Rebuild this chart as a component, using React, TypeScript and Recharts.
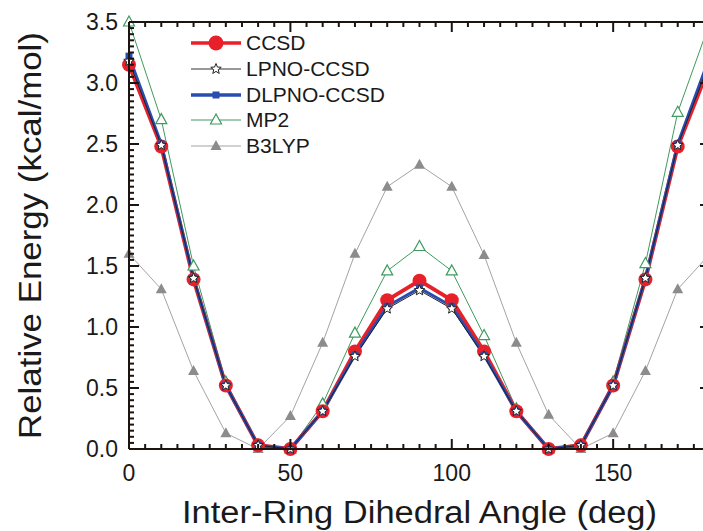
import { LineChart, Line, XAxis, YAxis } from 'recharts';

// dihedral angle (deg)
const angles = [0, 10, 20, 30, 40, 50, 60, 70, 80, 90, 100, 110, 120, 130, 140, 150, 160, 170, 180];

// relative energies (kcal/mol)
const ccsd = [3.15, 2.48, 1.39, 0.52, 0.03, 0.0, 0.31, 0.8, 1.22, 1.38, 1.22, 0.8, 0.31, 0.0, 0.03, 0.52, 1.39, 2.48, 3.15];
const lpno = [3.18, 2.49, 1.4, 0.52, 0.03, 0.0, 0.31, 0.76, 1.15, 1.3, 1.15, 0.76, 0.31, 0.0, 0.03, 0.52, 1.4, 2.49, 3.18];
const dlpno = [3.22, 2.5, 1.4, 0.52, 0.03, 0.0, 0.31, 0.77, 1.17, 1.32, 1.17, 0.77, 0.31, 0.0, 0.03, 0.52, 1.4, 2.5, 3.22];
const mp2 = [3.5, 2.7, 1.5, 0.55, 0.03, 0.0, 0.37, 0.95, 1.46, 1.66, 1.46, 0.93, 0.33, 0.0, 0.03, 0.55, 1.52, 2.76, 3.5];
const b3lyp = [1.6, 1.31, 0.64, 0.13, 0.0, 0.27, 0.87, 1.6, 2.15, 2.33, 2.15, 1.59, 0.87, 0.28, 0.0, 0.13, 0.64, 1.31, 1.6];

const xMajorTicks = [0, 50, 100, 150];
const yMajorTicks = [0, 0.5, 1, 1.5, 2, 2.5, 3, 3.5];
const xMinorTicks = Array.from({ length: 37 }, (_, i) => i * 5);
const yMinorTicks = Array.from({ length: 71 }, (_, i) => Math.round(i * 5) / 100);

const data = angles.map((a, i) => ({
  angle: a,
  ccsd: ccsd[i],
  lpno: lpno[i],
  dlpno: dlpno[i],
  mp2: mp2[i],
  b3lyp: b3lyp[i],
}));

// chart box
const CHART_W = 722;
const CHART_H = 531;
const M = { top: 22, right: 12, bottom: 0, left: 0 };
const Y_AXIS_W = 129;
const X_AXIS_H = 82;
const PLOT = {
  left: M.left + Y_AXIS_W,
  right: CHART_W - M.right,
  top: M.top,
  bottom: CHART_H - M.bottom - X_AXIS_H,
};
const X_DOMAIN = [0, 180];
const Y_DOMAIN = [0, 3.5];

const FONT = '"Liberation Sans", Arial, sans-serif';
const AXIS = '#1c1410';
const TEXT = '#1a1a1a';
const RED = '#e8202a';
const BLUE = '#2a4cb0';
const GREEN = '#3f9a5e';
const GREY = '#a3a3a3';
const GREY_MARK = '#8c8c8c';

function BottomTick(props: any) {
  const { x, y, payload } = props;
  return (
    <text x={x} y={y + 32} textAnchor="middle" fontSize={23} fill={TEXT} fontFamily={FONT}>
      {String(payload.value)}
    </text>
  );
}

function LeftTick(props: any) {
  const { x, y, payload } = props;
  return (
    <text x={x - 11} y={y + 8} textAnchor="end" fontSize={23} fill={TEXT} fontFamily={FONT}>
      {Number(payload.value).toFixed(1)}
    </text>
  );
}

// frame with inward ticks on all four sides, laid over the plot area
const PAD = 3;
function Frame() {
  const w = PLOT.right - PLOT.left;
  const h = PLOT.bottom - PLOT.top;
  const sx = (v: number) => PAD + ((v - X_DOMAIN[0]) / (X_DOMAIN[1] - X_DOMAIN[0])) * w;
  const sy = (v: number) => PAD + h - ((v - Y_DOMAIN[0]) / (Y_DOMAIN[1] - Y_DOMAIN[0])) * h;
  const isMajX = (v: number) => xMajorTicks.includes(v);
  const isMajY = (v: number) => yMajorTicks.some((t) => Math.abs(t - v) < 1e-6);
  return (
    <svg
      width={w + 2 * PAD}
      height={h + 2 * PAD}
      style={{ position: 'absolute', left: PLOT.left - PAD, top: PLOT.top - PAD, pointerEvents: 'none', zIndex: 5 }}
    >
      <line x1={PAD} x2={PAD + w} y1={PAD} y2={PAD} stroke={AXIS} strokeWidth={2} />
      <line x1={PAD} x2={PAD + w} y1={PAD + h} y2={PAD + h} stroke={AXIS} strokeWidth={2} />
      <line x1={PAD} x2={PAD} y1={PAD} y2={PAD + h} stroke={AXIS} strokeWidth={2} />
      <line x1={PAD + w} x2={PAD + w} y1={PAD} y2={PAD + h} stroke={AXIS} strokeWidth={2} />
      {xMinorTicks.map((v) => {
        const len = isMajX(v) ? 10 : 5;
        return (
          <g key={`x${v}`}>
            <line x1={sx(v)} x2={sx(v)} y1={PAD + h} y2={PAD + h - len} stroke={AXIS} strokeWidth={2} />
            <line x1={sx(v)} x2={sx(v)} y1={PAD} y2={PAD + len} stroke={AXIS} strokeWidth={2} />
          </g>
        );
      })}
      {yMinorTicks.map((v) => {
        const len = isMajY(v) ? 10 : 5;
        return (
          <g key={`y${v}`}>
            <line x1={PAD} x2={PAD + len} y1={sy(v)} y2={sy(v)} stroke={AXIS} strokeWidth={2} />
            <line x1={PAD + w} x2={PAD + w - len} y1={sy(v)} y2={sy(v)} stroke={AXIS} strokeWidth={2} />
          </g>
        );
      })}
    </svg>
  );
}

function starPoints(cx: number, cy: number, R: number, r: number) {
  const pts: string[] = [];
  for (let k = 0; k < 10; k++) {
    const rad = k % 2 === 0 ? R : r;
    const ang = -Math.PI / 2 + (k * Math.PI) / 5;
    pts.push(`${cx + rad * Math.cos(ang)},${cy + rad * Math.sin(ang)}`);
  }
  return pts.join(' ');
}

const CircleDot = ({ cx, cy, index }: any) => <circle key={index} cx={cx} cy={cy} r={7} fill={RED} />;
const SquareDot = ({ cx, cy, index }: any) => <rect key={index} x={cx - 3.5} y={cy - 3.5} width={7} height={7} fill={BLUE} />;
const StarDot = ({ cx, cy, index }: any) => (
  <polygon key={index} points={starPoints(cx, cy, 5.5, 2.4)} fill="#fff" stroke="#222" strokeWidth={1} />
);
const OpenTri = ({ cx, cy, index }: any) => (
  <polygon key={index} points={`${cx},${cy - 6} ${cx - 5.5},${cy + 4} ${cx + 5.5},${cy + 4}`} fill="#fff" stroke={GREEN} strokeWidth={1.2} />
);
const FilledTri = ({ cx, cy, index }: any) => (
  <polygon key={index} points={`${cx},${cy - 6} ${cx - 5.5},${cy + 4} ${cx + 5.5},${cy + 4}`} fill={GREY_MARK} />
);

const legendItems = [
  { name: 'CCSD', color: RED, width: 3.5, marker: 'circle' },
  { name: 'LPNO-CCSD', color: '#333', width: 1, marker: 'star' },
  { name: 'DLPNO-CCSD', color: BLUE, width: 3.5, marker: 'square' },
  { name: 'MP2', color: GREEN, width: 1, marker: 'opentri' },
  { name: 'B3LYP', color: GREY, width: 1, marker: 'tri' },
];

function LegendMarker({ kind }: { kind: string }) {
  const cx = 26;
  const cy = 13;
  if (kind === 'circle') return <circle cx={cx} cy={cy} r={7.5} fill={RED} />;
  if (kind === 'star') return <StarDot cx={cx} cy={cy} />;
  if (kind === 'square') return <SquareDot cx={cx} cy={cy} />;
  if (kind === 'opentri') return <OpenTri cx={cx} cy={cy} />;
  return <FilledTri cx={cx} cy={cy} />;
}

function ChartLegend() {
  return (
    <div style={{ position: 'absolute', left: 190, top: 30, fontFamily: FONT, zIndex: 6 }}>
      {legendItems.map((item) => (
        <div key={item.name} style={{ display: 'flex', alignItems: 'center', height: 25.8 }}>
          <svg width={52} height={26} style={{ display: 'block' }}>
            <line x1={1} y1={13} x2={51} y2={13} stroke={item.color} strokeWidth={item.width} />
            <LegendMarker kind={item.marker} />
          </svg>
          <span style={{ marginLeft: 4, fontSize: 21, color: TEXT, lineHeight: '26px' }}>{item.name}</span>
        </div>
      ))}
    </div>
  );
}

export default function App() {
  return (
    <div style={{ position: 'absolute', left: 0, top: 0, width: 703, height: 531, overflow: 'hidden', background: '#fff' }}>
      <LineChart width={CHART_W} height={CHART_H} data={data} margin={M}>
        <XAxis
          dataKey="angle"
          type="number"
          domain={X_DOMAIN}
          ticks={xMajorTicks}
          interval={0}
          tickSize={0}
          tickMargin={0}
          tickLine={false}
          height={X_AXIS_H}
          axisLine={{ stroke: AXIS, strokeWidth: 2 }}
          tick={(p: any) => <BottomTick key={p.index} {...p} />}
          label={{
            content: ({ viewBox }: any) => (
              <text
                x={viewBox.x + viewBox.width / 2}
                y={viewBox.y + 74}
                textAnchor="middle"
                fontSize={31}
                textLength={475}
                lengthAdjust="spacingAndGlyphs"
                fill={TEXT}
                fontFamily={FONT}
              >
                Inter-Ring Dihedral Angle (deg)
              </text>
            ),
          }}
        />
        <YAxis
          type="number"
          domain={Y_DOMAIN}
          ticks={yMajorTicks}
          interval={0}
          tickSize={0}
          tickMargin={0}
          tickLine={false}
          width={Y_AXIS_W}
          axisLine={{ stroke: AXIS, strokeWidth: 2 }}
          tick={(p: any) => <LeftTick key={p.index} {...p} />}
          label={{
            content: ({ viewBox }: any) => {
              const cx = 30;
              const cy = viewBox.y + viewBox.height / 2;
              return (
                <text
                  x={cx}
                  y={cy}
                  transform={`rotate(-90 ${cx} ${cy})`}
                  textAnchor="middle"
                  dominantBaseline="central"
                  fontSize={31}
                  textLength={407}
                  lengthAdjust="spacingAndGlyphs"
                  fill={TEXT}
                  fontFamily={FONT}
                >
                  Relative Energy (kcal/mol)
                </text>
              );
            },
          }}
        />
        <Line dataKey="b3lyp" name="B3LYP" stroke={GREY} strokeWidth={1} dot={FilledTri} isAnimationActive={false} />
        <Line dataKey="mp2" name="MP2" stroke={GREEN} strokeWidth={1} dot={OpenTri} isAnimationActive={false} />
        <Line dataKey="ccsd" name="CCSD" stroke={RED} strokeWidth={4} dot={CircleDot} isAnimationActive={false} />
        <Line dataKey="dlpno" name="DLPNO-CCSD" stroke={BLUE} strokeWidth={3} dot={SquareDot} isAnimationActive={false} />
        <Line dataKey="lpno" name="LPNO-CCSD" stroke="#222" strokeWidth={1} dot={StarDot} isAnimationActive={false} />
      </LineChart>
      <Frame />
      <ChartLegend />
    </div>
  );
}
